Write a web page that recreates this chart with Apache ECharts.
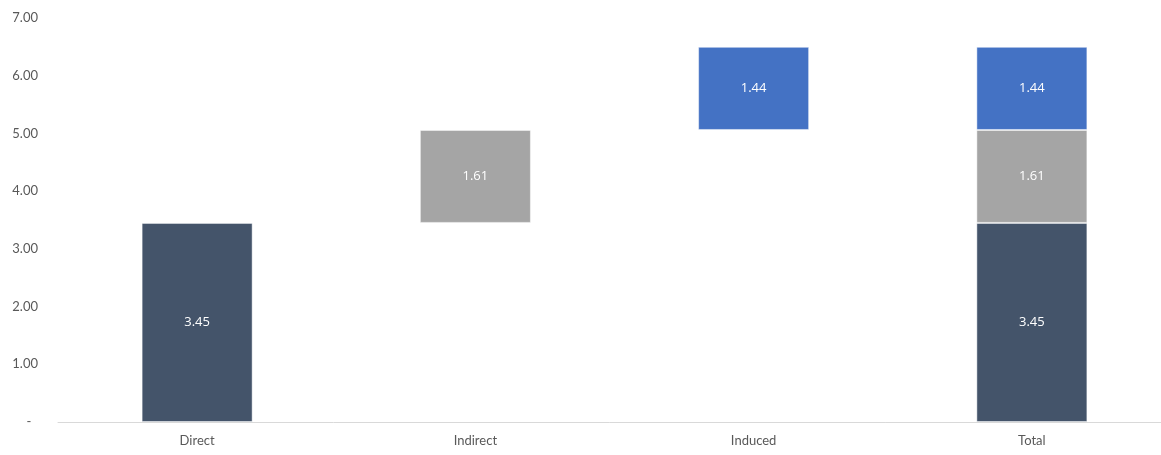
<!DOCTYPE html>
<html>
<head>
<meta charset="utf-8">
<script src="https://cdn.jsdelivr.net/npm/echarts@6/dist/echarts.min.js"></script>
<style>html,body{margin:0;padding:0;background:#fff;}#c{width:1161px;height:455px;}</style>
</head>
<body>
<div id="c"></div>
<script>
var categories = ['Direct', 'Indirect', 'Induced', 'Total'];
var direct = [3.45, null, null, 3.45];
var indirect = [null, 1.61, null, 1.61];
var induced = [null, null, 1.44, 1.44];
var yTicks = [0, 1, 2, 3, 4, 5, 6, 7];

// invisible base for the floating steps, built from the values
var base = [0, direct[0], direct[0] + indirect[1], 0];

var chart = echarts.init(document.getElementById('c'));
var labelStyle = {
  show: true, position: 'inside', color: '#ffffff', fontSize: 13,
  fontFamily: 'Open Sans', formatter: function (p) { return p.value.toFixed(2); }
};
var border = { borderColor: 'rgba(255,255,255,0.45)', borderWidth: 1 };
chart.setOption({
  animation: false,
  grid: { left: 58, width: 1113, top: 18, bottom: 33, outerBoundsMode: 'none', containLabel: false },
  xAxis: {
    type: 'category', data: categories,
    axisLine: { lineStyle: { color: '#d9d9d9', width: 1 } },
    axisTick: { show: false },
    axisLabel: { color: '#595959', fontSize: 13, fontFamily: 'Lato', margin: 12 }
  },
  yAxis: {
    type: 'value', min: yTicks[0], max: yTicks[yTicks.length - 1], interval: 1,
    splitLine: { show: false }, axisLine: { show: false }, axisTick: { show: false },
    axisLabel: {
      color: '#595959', fontSize: 13, fontFamily: 'Lato', margin: 20,
      formatter: function (v) { return v === 0 ? '-  ' : v.toFixed(2); }
    }
  },
  series: [
    { type: 'bar', stack: 'w', data: base, barWidth: 111, itemStyle: { color: 'transparent' }, silent: true },
    { type: 'bar', stack: 'w', data: direct, itemStyle: Object.assign({ color: '#44546A' }, border), label: labelStyle },
    { type: 'bar', stack: 'w', data: indirect, itemStyle: Object.assign({ color: '#A5A5A5' }, border), label: labelStyle },
    { type: 'bar', stack: 'w', data: induced, itemStyle: Object.assign({ color: '#4472C4' }, border), label: labelStyle }
  ]
});
</script>
</body>
</html>
